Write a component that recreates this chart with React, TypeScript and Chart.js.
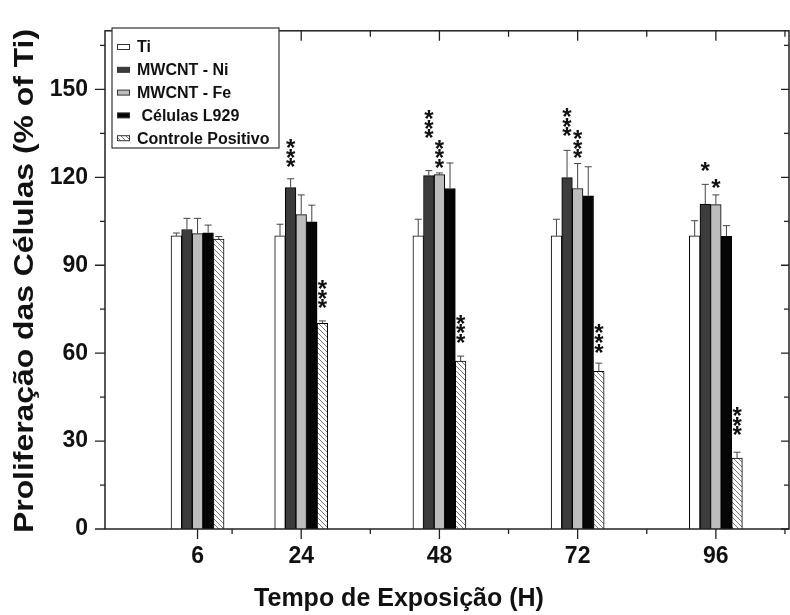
import React, { useEffect, useRef } from 'react';
import { Chart, registerables } from 'chart.js';

Chart.register(...registerables);

// ---------- data ----------
const hours = [6, 24, 48, 72, 96];
const seriesNames = ['Ti', 'MWCNT - Ni', 'MWCNT - Fe', ' Células L929', 'Controle Positivo'];

const tiValues = [100, 100, 100, 100, 100];
const niValues = [102.2, 116.5, 120.6, 119.9, 110.9];
const feValues = [100.8, 107.3, 120.9, 116.2, 110.7];
const l929Values = [101.1, 104.8, 116.2, 113.7, 99.9];
const cpValues = [98.9, 70.2, 57.3, 53.8, 24.2];

const tiErrTop = [101, 104, 105.7, 105.7, 105.2];
const niErrTop = [106, 119.5, 122.3, 129.2, 117.6];
const feErrTop = [106, 114, 121.5, 124.7, 114];
const l929ErrTop = [103.7, 110.5, 124.9, 123.6, 103.5];
const cpErrTop = [99.8, 71, 59, 56.6, 26.2];

const tiSig = ['', '', '', '', ''];
const niSig = ['', '***', '***', '***', '*'];
const feSig = ['', '', '***', '***', '*'];
const l929Sig = ['', '', '', '', ''];
const cpSig = ['', '***', '***', '***', '***'];

// level (data units) where each significance mark starts
const tiSigAt = [0, 0, 0, 0, 0];
const niSigAt = [0, 123.3, 133.2, 133.9, 122];
const feSigAt = [0, 0, 123, 126.3, 116.3];
const l929SigAt = [0, 0, 0, 0, 0];
const cpSigAt = [0, 75.2, 63.3, 60, 31.8];

const xTickValues = [6, 24, 48, 72, 96];
const xMinorTicks = [12, 36, 60, 84, 108];
const topMajorTicks = [0, 24, 48, 72, 96];
const yTickValues = [0, 30, 60, 90, 120, 150];
const yMinorTicks = [15, 45, 75, 105, 135, 165];

const yTitle = 'Proliferação das Células (% of Ti)';
const xTitle = 'Tempo de Exposição (H)';

const FONT = "'Liberation Sans', Arial, sans-serif";

function makeHatch(): CanvasPattern | string {
  const c = document.createElement('canvas');
  c.width = 5;
  c.height = 5;
  const g = c.getContext('2d');
  if (!g) return '#ddd';
  g.fillStyle = '#ffffff';
  g.fillRect(0, 0, 5, 5);
  g.strokeStyle = '#7a7a7a';
  g.lineWidth = 1;
  g.beginPath();
  g.moveTo(-1, -1);
  g.lineTo(6, 6);
  g.moveTo(-1, 4);
  g.lineTo(1, 6);
  g.moveTo(4, -1);
  g.lineTo(6, 1);
  g.stroke();
  const p = g.createPattern(c, 'repeat');
  return p || '#ddd';
}

export default function App() {
  const ref = useRef<HTMLCanvasElement | null>(null);

  useEffect(() => {
    if (!ref.current) return;
    const hatch = makeHatch();
    const fills: any[] = ['#ffffff', '#3c3c3c', '#bdbdbd', '#050505', hatch];
    const values = [tiValues, niValues, feValues, l929Values, cpValues];
    const errs = [tiErrTop, niErrTop, feErrTop, l929ErrTop, cpErrTop];
    const sigs = [tiSig, niSig, feSig, l929Sig, cpSig];
    const sigAts = [tiSigAt, niSigAt, feSigAt, l929SigAt, cpSigAt];

    const datasets = values.map((vals, si) => ({
      label: seriesNames[si],
      data: vals.map((v, i) => ({ x: hours[i], y: v })),
      backgroundColor: fills[si],
      borderColor: '#000',
      borderWidth: 1,
      barThickness: 10.6,
      borderSkipped: 'bottom' as const,
    }));

    const extras = {
      id: 'extras',
      afterDatasetsDraw(chart: any) {
        const ctx = chart.ctx as CanvasRenderingContext2D;
        const ys = chart.scales.y;
        ctx.save();
        // error bars
        datasets.forEach((_, si) => {
          const meta = chart.getDatasetMeta(si);
          meta.data.forEach((bar: any, i: number) => {
            const top = ys.getPixelForValue(values[si][i]);
            const et = ys.getPixelForValue(errs[si][i]);
            ctx.strokeStyle = '#444';
            ctx.lineWidth = 1;
            ctx.beginPath();
            ctx.moveTo(bar.x, top);
            ctx.lineTo(bar.x, et);
            ctx.moveTo(bar.x - 3.5, et);
            ctx.lineTo(bar.x + 3.5, et);
            ctx.stroke();
          });
        });
        // significance marks
        const fs = 24;
        ctx.font = `bold ${fs}px ${FONT}`;
        ctx.fillStyle = '#111';
        ctx.textAlign = 'center';
        ctx.textBaseline = 'alphabetic';
        datasets.forEach((_, si) => {
          const meta = chart.getDatasetMeta(si);
          meta.data.forEach((bar: any, i: number) => {
            const s = sigs[si][i];
            if (!s) return;
            const pb = ys.getPixelForValue(sigAts[si][i]);
            for (let k = 0; k < s.length; k++) {
              const cy = pb - 4.85 - k * 9.7;
              ctx.fillText('*', bar.x, cy + 0.52 * fs);
            }
          });
        });
        ctx.restore();
      },
      afterDraw(chart: any) {
        const ctx = chart.ctx as CanvasRenderingContext2D;
        const { left, right, top, bottom } = chart.chartArea;
        const xs = chart.scales.x;
        const ys = chart.scales.y;
        ctx.save();
        ctx.strokeStyle = '#222';
        ctx.lineWidth = 1.5;
        ctx.strokeRect(left, top, right - left, bottom - top);
        ctx.lineWidth = 1.3;
        ctx.beginPath();
        // bottom ticks (outward)
        xTickValues.forEach((v) => {
          const px = xs.getPixelForValue(v);
          ctx.moveTo(px, bottom);
          ctx.lineTo(px, bottom + 10);
        });
        xMinorTicks.forEach((v) => {
          const px = xs.getPixelForValue(v);
          ctx.moveTo(px, bottom);
          ctx.lineTo(px, bottom + 5);
        });
        // top ticks (inward)
        topMajorTicks.forEach((v) => {
          const px = xs.getPixelForValue(v);
          ctx.moveTo(px, top);
          ctx.lineTo(px, top + 10);
        });
        xMinorTicks.forEach((v) => {
          const px = xs.getPixelForValue(v);
          ctx.moveTo(px, top);
          ctx.lineTo(px, top + 6);
        });
        // left ticks (outward)
        yTickValues.forEach((v) => {
          const py = ys.getPixelForValue(v);
          ctx.moveTo(left, py);
          ctx.lineTo(left - 10, py);
        });
        yMinorTicks.forEach((v) => {
          const py = ys.getPixelForValue(v);
          ctx.moveTo(left, py);
          ctx.lineTo(left - 5, py);
        });
        // right ticks (inward)
        yTickValues.forEach((v) => {
          const py = ys.getPixelForValue(v);
          ctx.moveTo(right, py);
          ctx.lineTo(right - 8, py);
        });
        yMinorTicks.forEach((v) => {
          const py = ys.getPixelForValue(v);
          ctx.moveTo(right, py);
          ctx.lineTo(right - 5, py);
        });
        ctx.stroke();

        // legend
        const lx = 112, ly = 28, lw = 167, lh = 120;
        ctx.fillStyle = '#fff';
        ctx.fillRect(lx, ly, lw, lh);
        ctx.strokeStyle = '#333';
        ctx.lineWidth = 1.2;
        ctx.strokeRect(lx, ly, lw, lh);
        ctx.font = `bold 16px ${FONT}`;
        ctx.textAlign = 'left';
        ctx.textBaseline = 'middle';
        seriesNames.forEach((name, i) => {
          const cy = 47 + i * 22.8;
          ctx.fillStyle = fills[i];
          ctx.fillRect(117.5, cy - 2.5, 12, 5);
          ctx.strokeStyle = '#333';
          ctx.lineWidth = 1;
          ctx.strokeRect(117.5, cy - 2.5, 12, 5);
          ctx.fillStyle = '#111';
          ctx.fillText(name, 137, cy + 1);
        });

        // axis titles
        ctx.fillStyle = '#111';
        ctx.font = `bold 25px ${FONT}`;
        ctx.textAlign = 'center';
        ctx.textBaseline = 'middle';
        ctx.fillText(xTitle, 399, 599);
        ctx.font = `bold 27px ${FONT}`;
        ctx.translate(26, 281);
        ctx.rotate(-Math.PI / 2);
        ctx.scale(1.18, 1);
        ctx.fillText(yTitle, 0, 0);
        ctx.restore();
      },
    };

    const chart = new Chart(ref.current, {
      type: 'bar',
      data: { datasets: datasets as any },
      options: {
        animation: false,
        responsive: true,
        maintainAspectRatio: false,
        layout: { padding: { top: 16, right: 1, left: 0, bottom: 0 } },
        plugins: { legend: { display: false }, tooltip: { enabled: false } },
        scales: {
          x: {
            type: 'linear',
            min: -10.07,
            max: 108.7,
            offset: false,
            grid: { display: false, drawTicks: false, offset: false },
            border: { display: false },
            ticks: {
              autoSkip: false,
              padding: 14,
              color: '#111',
              font: { family: FONT, size: 23, weight: 'bold' },
              callback: (v: any) => String(v),
            },
            afterBuildTicks: (s: any) => {
              s.ticks = xTickValues.map((v) => ({ value: v }));
            },
            afterFit: (s: any) => {
              s.height = 86;
            },
          },
          y: {
            min: 0,
            max: 170,
            grid: { display: false, drawTicks: false },
            border: { display: false },
            ticks: {
              autoSkip: false,
              padding: 17,
              color: '#111',
              font: { family: FONT, size: 23, weight: 'bold' },
              callback: (v: any) => String(v),
            },
            afterBuildTicks: (s: any) => {
              s.ticks = yTickValues.map((v) => ({ value: v }));
            },
            afterFit: (s: any) => {
              s.width = 105;
            },
          },
        },
      },
      plugins: [extras],
    });
    return () => chart.destroy();
  }, []);

  return (
    <div style={{ position: 'fixed', left: 0, top: 0, width: 790, height: 615, background: '#fff' }}>
      <canvas ref={ref} />
    </div>
  );
}
